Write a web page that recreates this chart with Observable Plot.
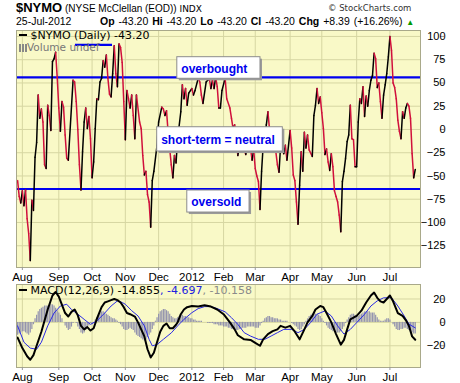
<!DOCTYPE html>
<html><head><meta charset="utf-8">
<script src="https://cdn.jsdelivr.net/npm/d3@7"></script>
<script src="https://cdn.jsdelivr.net/npm/@observablehq/plot@0.6"></script>
<style>
html,body{margin:0;padding:0;background:#fff;}
#wrap{position:relative;width:460px;height:383px;overflow:hidden;}
.abs{position:absolute;white-space:nowrap;}
.ar{font-family:"Liberation Sans",Arial,sans-serif;}
.dv{font-family:"DejaVu Sans",Verdana,sans-serif;}
svg{display:block}
</style></head><body>
<div id="wrap">
  <div class="abs ar" style="left:16px;top:1px;font-size:10px;line-height:14px;"><b style="font-size:13px">$NYMO</b> (NYSE McClellan (EOD)) <span class="dv" style="font-size:9px">INDX</span></div>
  <div class="abs dv" style="left:328px;top:2px;font-size:8.5px;line-height:12px;color:#333">© StockCharts.com</div>
  <div class="abs ar" style="left:16px;top:15px;font-size:10.5px;line-height:13px;">25-Jul-2012</div>
  <div class="abs ar" style="left:100px;top:15px;font-size:10.5px;line-height:13px;word-spacing:1px"><b>Op</b> -43.20 <b>Hi</b> -43.20 <b>Lo</b> -43.20 <b>Cl</b> -43.20 <b>Chg</b> +8.39 (+16.26%) <span style="color:#090;font-size:8px">▲</span></div>
  <div id="main" class="abs" style="left:0;top:26px"></div>
  <div class="abs dv" style="left:19px;top:30px;font-size:11px;line-height:11px;"><span style="display:inline-block;width:8px;height:2px;background:#000;vertical-align:3px"></span> $NYMO (Daily) -43.20</div>
  <div class="abs dv" style="left:19px;top:42px;font-size:10.5px;line-height:10px;color:#777"><span style="display:inline-block;width:8px;height:8px;background:linear-gradient(90deg,#888 0 2px,transparent 2px 3px,#888 3px 5px,transparent 5px 6px,#888 6px 8px);vertical-align:-1px"></span>Volume undef</div>
  <div id="macd" class="abs" style="left:0;top:280px"></div>
  <div class="abs dv" style="left:19px;top:285px;font-size:11px;line-height:12px;"><span style="display:inline-block;width:8px;height:2px;background:#000;vertical-align:3px"></span> MACD(12,26,9) -14.855<span style="color:#2020e0">, -4.697</span><span style="color:#8a8a8a">, -10.158</span></div>
</div>
<script>
// ---- axis ticks ----
const monthDay = [3, 26, 47, 68, 89, 110, 130, 150, 172, 192, 214, 235];
const monthLabel = ["Aug", "Sep", "Oct", "Nov", "Dec", "2012", "Feb", "Mar", "Apr", "May", "Jun", "Jul"];
const nymoTicks = [100, 75, 50, 25, 0, -25, -50, -75, -100, -125];
const macdTicks = [20, 0, -20];
const levels = [56, -64];

// ---- $NYMO (trading-day index, value) ----
const nymoDay = [0,1,2,3,4,5,6,7,8,9,10,11,12,13,14,15,16,17,18,19,20,21,22,23,24,25,26,27,28,29,30,31,32,35,36,37,38,39,40,41,42,43,44,45,46,47,48,49,50,51,52,53,54,55,56,57,58,59,60,61,62,63,64,65,66,67,68,69,70,71,72,73,74,75,77,78,79,80,81,82,83,84,85,86,88,89,91,92,93,94,95,97,98,99,100,101,103,104,105,106,107,108,110,111,112,114,115,116,117,119,120,121,122,123,124,125,126,127,128,129,131,132,134,135,136,137,138,139,140,141,142,143,144,145,146,147,148,149,150,151,152,153,154,155,156,157,158,159,160,161,162,163,164,165,166,168,169,170,172,173,174,175,176,177,178,179,180,181,182,183,184,186,187,188,189,190,191,192,193,194,195,196,197,198,199,200,201,202,203,204,205,206,207,208,209,210,211,212,213,214,215,216,217,218,219,220,221,222,223,224,225,226,227,228,229,230,231,232,233,234,235,236,237,238,239,240,241,242,243,244,245,246,247,248,249,250,251];
const nymoVal = [-55,-72,-79,-66,-82,-65,-96,-112,-141,-76,-87,-30,-14,37,12,22,8,-38,-42,26,15,-1,73,76,83,56,23,-2,30,24,-6,-31,-33,53,51,30,0,-38,-65,-24,8,23,1,14,-10,-52,-35,1,33,32,51,55,74,67,80,55,38,35,60,90,60,46,92,88,72,30,-11,42,33,23,37,15,-10,37,8,1,-28,-49,-45,-70,-78,-105,-55,-45,-17,8,24,22,15,20,-3,-38,-52,-28,-36,-10,19,48,33,44,26,39,44,37,42,55,51,37,28,51,53,55,44,53,44,56,46,23,23,42,55,33,23,12,1,5,-10,-28,-18,-24,-14,-22,-27,-18,-15,-20,-33,-22,-42,-50,-56,-86,-45,-17,-8,5,19,0,-13,-20,-15,-24,-38,-46,-17,-26,-17,-33,-1,-20,-49,-55,-78,-102,-60,-24,-45,-3,-20,-6,-22,-29,15,26,44,28,35,18,1,-27,-21,-35,-44,-26,-40,-66,-72,-78,-92,-110,-56,-45,-31,-13,-6,26,-10,-11,-40,-40,8,33,28,46,14,36,25,42,53,58,82,76,45,50,30,12,37,48,60,78,100,85,50,45,33,10,-2,-10,19,12,23,28,25,12,-26,-52,-43];

// ---- MACD(12,26,9) ----
const macdDay = [0,3,6,8,10,12,15,19,22,24,26,28,30,32,34,36,38,40,42,44,46,48,50,53,55,57,59,61,63,65,67,69,71,74,76,78,80,82,84,86,88,90,92,94,96,98,100,101,103,105,107,110,114,118,122,126,130,134,137,139,143,147,150,153,155,158,161,164,166,169,172,175,178,181,183,186,188,191,193,195,198,201,204,206,208,210,214,217,220,223,225,227,229,231,233,235,237,240,243,245,247,249,251];
const macdVal = [-13,-22,-29,-32,-28,-20,-8,11,23,26,22,15,8,5,9,11,6,-3,-6,-4,-7,-5,3,13,17,18,19,20,19,17,13,8,7,5,0,-6,-12,-23,-30,-26,-17,-8,-3,-1,-5,-5,-2,0,7,11,13,14,13.5,14.6,13.5,11,7,0,-6,-11,-14.5,-15,-17.5,-20,-14.5,-10,-7.5,-6,-3,-4.5,-3,-8,-14.5,-6,0,5.5,11,14,13,8,0,-10,-19,-15,-6,2.6,5.5,10,17,23,25.5,21,18,17,20,23,18,8,5.5,2,-3,-12,-14.9];
const sigDay = [0,4,8,12,15,19,23,27,31,34,38,42,46,50,55,59,63,66,68,72,76,80,83,85,88,92,97,101,105,110,114,118,122,126,131,135,139,143,147,152,156,160,164,168,173,177,181,185,189,194,198,202,206,210,215,219,223,227,231,236,240,244,247,251];
const sigVal = [-3,-17,-22,-23,-17,-3,8,14,15.5,11,7,2.6,-1.7,1.2,8,14,18.4,17,15.5,10,5.5,-3,-14.5,-20,-19,-14.5,-9,-3,2.6,8.3,11.8,13.5,13.5,11.8,9,4,-1.7,-8.8,-11.7,-14.5,-14.5,-11.7,-8.8,-6,-6,-8.8,-6,0,7,9.8,5.5,-3,-10,-6,1.2,7,14,18.4,21,21,14,5.5,-1.5,-4.7];
// histogram, one bar per trading day (index 0..251)
const histVal = [-11,-10,-9,-8,-8,-9,-10,-11, -9,-6,-2, 3,6,9,11,12, 13,14,14,14,14,15,15, 14,12,10,8,6, 3,0,-3,-5,-7, -6,-4,-1,0,-1, -4,-6,-9,-10,-9,-7,-5, -3,-1,-2,-1,2,4, 6,8,9,9,8,7,6,
 5,4,3,3,2,1,-1, -2,-4,-6,-7,-7,-6,-5, -6,-7,-9,-11,-12,-13,-14, -15,-16,-15,-13,-11,-9,-6, -3,1,4,7,9,10,11, 11,10,9,7,5,4,3, 3,4,5,6,6,5,5, 4,4,3,3,2,2,1, 1,1,1,0,0,0,-1, -1,-1,-1,-2,-2,-2,-3, -3,-3,-4,-4,-4,-5,-5, -6,-6,-7,-7,-7,-6,-6, -5,-5,-5,-4,-4,-4,-4, -4,-5,-5,-5,-3,-1,1, 3,4,5,5,4,4,3, 3,3,2,2,1,1,1, 1,0,0,-1,-2,-3,-4, -6,-7,-6,-4,-2,1,3, 5,6,7,8,7,7,6, 5,3,1,-1,-3,-5,-6, -7,-8,-8,-9,-9,-9,-8, -6,-4,-1,2,4,6,7, 7,6,5,5,6,7,8, 9,9,9,9,8,8,8, 6,4,2,1,1,1,2, 3,3,2,0,-2,-4,-6, -7,-7,-6,-6,-5,-5,-6, -7,-8,-9,-10,-10];

// ---- annotations (data units) ----
const boxText = ["overbought", "short-term = neutral", "oversold"];
const boxX1 = [100.8, 88.1, 107.1];
const boxX2 = [153.3, 167.4, 146.4];
const boxYTop = [77.7, 2.4, -65.6];
const boxYBot = [54.5, -23.7, -89.3];
const markDay = [36.5, 59.9]; const markVal = 90.9;

// ---- styles ----
const BG = "#f9f9c7", GRID = "#d6d6a2", BORDER = "#a9a98a", UP = "#000000", DOWN = "#d0103c";
const xDom = [-0.7, 254.3];
const axisFont = {fontFamily: "'Liberation Sans', Arial, sans-serif", fontSize: 11, fill: "#000"};

const segs = d3.pairs(d3.zip(nymoDay, nymoVal)).map(([a, b]) => ({x1: a[0], y1: a[1], x2: b[0], y2: b[1], up: b[1] >= a[1]}));
const boxes = boxText.map((t, i) => ({t, x1: boxX1[i], x2: boxX2[i], y1: boxYTop[i], y2: boxYBot[i], ym: (boxYTop[i] + boxYBot[i]) / 2}));

const xAxis = (extra) => Plot.axisX(monthDay, {anchor: "bottom", tickSize: 3, tickPadding: 2, stroke: "#999",
  tickFormat: (d) => monthLabel[monthDay.indexOf(d)], fontFamily: "'Liberation Sans', Arial, sans-serif", fontSize: 11.5,
  fontWeight: (d) => d === 110 ? "bold" : "normal", ...extra});

const main = Plot.plot({
  width: 460, height: 258, marginLeft: 16, marginRight: 40, marginTop: 4, marginBottom: 17,
  style: {background: "transparent", overflow: "visible"},
  x: {domain: xDom, axis: null},
  y: {domain: [-148.4, 106.4], axis: null},
  marks: [
    Plot.frame({fill: BG, stroke: null}),
    Plot.ruleX(monthDay, {stroke: GRID, strokeWidth: 1}),
    Plot.ruleY(nymoTicks, {stroke: GRID, strokeWidth: 1}),
    Plot.ruleY(levels, {stroke: "#0000f0", strokeWidth: 2.2}),
    Plot.ruleY([markVal], {x1: markDay[0], x2: markDay[1], stroke: "#0000f0", strokeWidth: 2.2}),
    Plot.link(segs, {x1: "x1", y1: "y1", x2: "x2", y2: "y2", stroke: (d) => d.up ? UP : DOWN, strokeWidth: 1.5, strokeLinecap: "round"}),
    Plot.rect(boxes, {x1: "x1", x2: "x2", y1: "y1", y2: "y2", fill: "#9a9a9a", dx: 2, dy: 2}),
    Plot.rect(boxes, {x1: "x1", x2: "x2", y1: "y1", y2: "y2", fill: "#fff", stroke: "#8c8c8c", strokeWidth: 1}),
    Plot.text(boxes, {x: "x1", y: "ym", text: "t", dx: 4, dy: 1, textAnchor: "start", fill: "#0000ee", fontWeight: "bold", fontSize: 12, fontFamily: "'Liberation Sans', Arial, sans-serif"}),
    Plot.frame({stroke: BORDER}),
    Plot.axisY(nymoTicks, {anchor: "right", tickSize: 4, tickPadding: 2, textAnchor: "end", dx: 19, stroke: "#999", ...axisFont}),
    xAxis({})
  ]
});
document.getElementById("main").appendChild(main);

const macd = Plot.plot({
  width: 460, height: 103, marginLeft: 16, marginRight: 40, marginTop: 4, marginBottom: 16,
  style: {background: "transparent", overflow: "visible"},
  x: {domain: xDom, axis: null},
  y: {domain: [-38.6, 32.4], axis: null},
  marks: [
    Plot.frame({fill: BG, stroke: null}),
    Plot.ruleX(monthDay, {stroke: GRID}),
    Plot.ruleY(macdTicks, {stroke: GRID}),
    Plot.ruleX(histVal.map((v, i) => ({i, v})), {x: "i", y1: 0, y2: "v", stroke: "#9494ae", strokeWidth: 1.2}),
    Plot.line(d3.zip(sigDay, sigVal), {x: "0", y: "1", stroke: "#2a2ae6", strokeWidth: 1}),
    Plot.line(d3.zip(macdDay, macdVal), {x: "0", y: "1", stroke: "#000", strokeWidth: 2}),
    Plot.frame({stroke: BORDER}),
    Plot.axisY(macdTicks, {anchor: "right", tickSize: 4, tickPadding: 2, textAnchor: "end", dx: 19, stroke: "#999", ...axisFont}),
    xAxis({})
  ]
});
document.getElementById("macd").appendChild(macd);
</script>
</body></html>
